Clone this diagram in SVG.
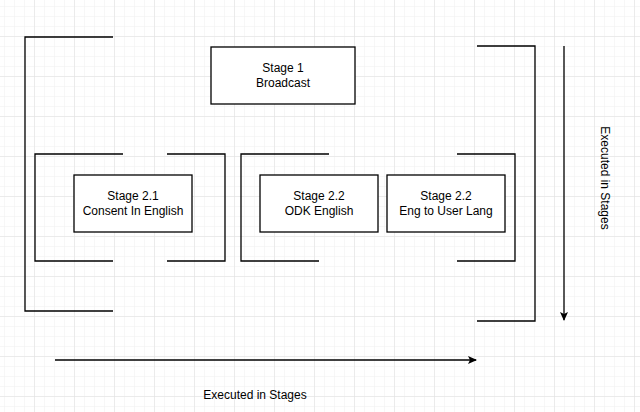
<svg xmlns="http://www.w3.org/2000/svg" width="640" height="412" viewBox="0 0 640 412">
<defs>
<pattern id="minor" width="10" height="10" patternUnits="userSpaceOnUse" x="4" y="6"><path d="M0 0H10M0 0V10" fill="none" stroke="#f0f0f0" stroke-width="1"/></pattern>
<pattern id="major" width="40" height="40" patternUnits="userSpaceOnUse" x="34" y="36"><path d="M0 0H40M0 0V40" fill="none" stroke="#e0e0e0" stroke-width="1"/></pattern>
<marker id="ah" markerWidth="10" markerHeight="10" refX="8" refY="4" orient="auto" markerUnits="userSpaceOnUse"><path d="M0 0L9 4L0 8L2 4Z" fill="#000"/></marker>
</defs>
<style>
.br{fill:none;stroke:#000;stroke-width:1.3}
.box{fill:#fff;stroke:#000;stroke-width:1.3}
text{font-family:"Liberation Sans",Arial,sans-serif;font-size:12px;fill:#000;text-anchor:middle}
</style>
<rect width="640" height="412" fill="#fff"/>
<rect width="640" height="412" fill="url(#minor)"/>
<rect width="640" height="412" fill="url(#major)"/>
<g id="brackets">
<path class="br" d="M113 37H25V311H113"/>
<path class="br" d="M477 46H535V321H477"/>
<path class="br" d="M123 154H35V261H113"/>
<path class="br" d="M167 154H225V261H167"/>
<path class="br" d="M329 154H241V261H319"/>
<path class="br" d="M457 154H515V261H457"/>
</g>
<g id="stage1"><rect class="box" x="211" y="47" width="144" height="57"/><text x="283" y="72">Stage 1</text><text x="283" y="87">Broadcast</text></g>
<g id="stage21"><rect class="box" x="74" y="175" width="118" height="57"/><text x="133" y="200">Stage 2.1</text><text x="133" y="215">Consent In English</text></g>
<g id="stage22a"><rect class="box" x="260" y="175" width="118" height="57"/><text x="319" y="200">Stage 2.2</text><text x="319" y="215">ODK English</text></g>
<g id="stage22b"><rect class="box" x="387" y="175" width="118" height="57"/><text x="446" y="200">Stage 2.2</text><text x="446" y="215">Eng to User Lang</text></g>
<g id="connectors">
<line x1="564" y1="46" x2="564" y2="320" stroke="#000" stroke-width="1.3" marker-end="url(#ah)"/>
<line x1="55" y1="360" x2="476" y2="360" stroke="#000" stroke-width="1.3" marker-end="url(#ah)"/>
</g>
<text x="255" y="399">Executed in Stages</text>
<text transform="translate(601,178) rotate(90)">Executed in Stages</text>
</svg>
